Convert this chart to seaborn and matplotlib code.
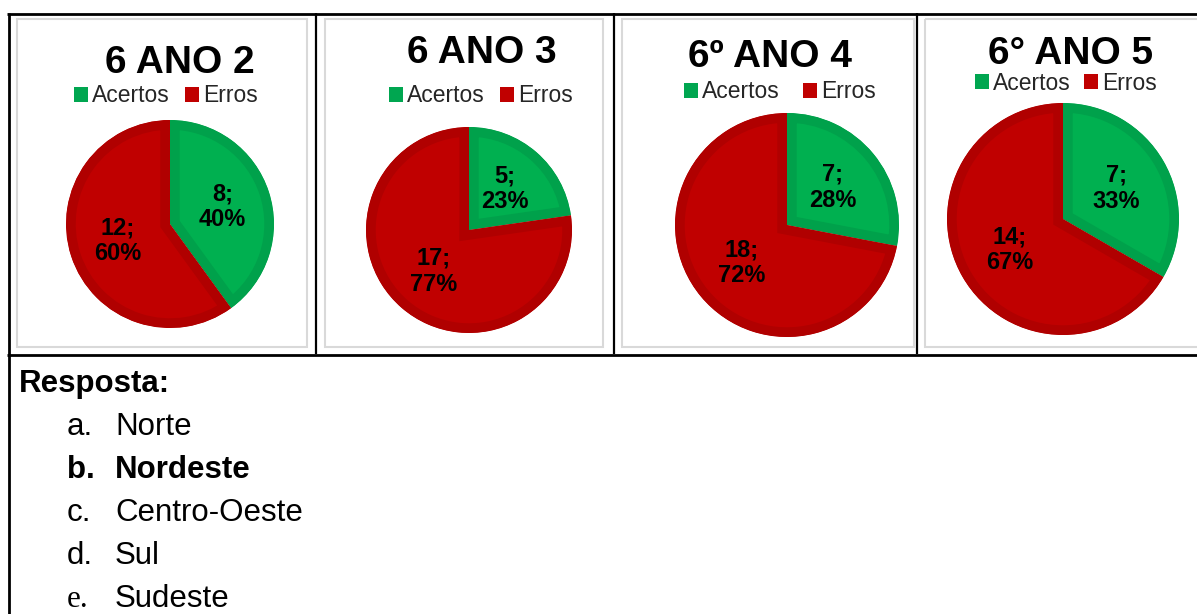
import matplotlib
matplotlib.use("Agg")
import matplotlib.pyplot as plt
from matplotlib.patches import Patch, Rectangle
import seaborn as sns

# dados
titulos = ["6 ANO 2", "6 ANO 3", "6º ANO 4", "6° ANO 5"]
categorias = ["Acertos", "Erros"]
acertos = [8, 5, 7, 7]
erros = [12, 17, 18, 14]

alternativas = ["a.", "b.", "c.", "d.", "e."]
respostas = ["Norte", "Nordeste", "Centro-Oeste", "Sul", "Sudeste"]
correta = 1

cores = ["#00B050", "#C00000"]
cores_borda = ["#00A14B", "#B00000"]
cores_legenda = ["#00A650", "#C00000"]

W, H = 1197, 614

# posicoes em pixels (centro x, centro y, raio) de cada pizza
pizzas = [(170, 224, 104), (469, 230, 103), (787, 225, 112), (1063, 219, 116)]
pos_titulo = [(180, 73), (482, 63), (770, 67), (1071, 64)]
pos_legenda = [(166, 96), (481, 96), (780, 92), (1066, 83)]
espaco_legenda = [0.65, 0.65, 1.0, 0.55]
molduras = [(17, 19, 307, 347), (325, 19, 603, 347), (622, 19, 914, 347), (925, 19, 1205, 347)]

sns.set_theme(style="white")
plt.rcParams["font.family"] = ["Liberation Sans", "DejaVu Sans"]

fig = plt.figure(figsize=(W / 100, H / 100), dpi=100)
fig.patch.set_facecolor("white")

# eixo de fundo em pixels para a tabela e o texto
bg = fig.add_axes([0, 0, 1, 1])
bg.set_xlim(0, W)
bg.set_ylim(H, 0)
bg.axis("off")

# linhas da tabela
lw = 2.0
bg.plot([7, W], [13.5, 13.5], color="black", lw=lw, solid_capstyle="butt")
bg.plot([8.5, 8.5], [12.5, H], color="black", lw=lw, solid_capstyle="butt")
bg.plot([7, W], [354.5, 354.5], color="black", lw=lw, solid_capstyle="butt")
for x in [316, 613.5, 916.5]:
    bg.plot([x, x], [13, 354], color="black", lw=1.6, solid_capstyle="butt")

for x0, y0, x1, y1 in molduras:
    bg.add_patch(Rectangle((x0, y0), x1 - x0, y1 - y0, fill=False,
                           edgecolor="#D9D9D9", lw=1.5))

for i in range(4):
    valores = [acertos[i], erros[i]]
    total = sum(valores)
    cx, cy, r = pizzas[i]
    ax = fig.add_axes([(cx - r) / W, 1 - (cy + r) / H, 2 * r / W, 2 * r / H])

    def rotulo(pct, total=total):
        n = int(round(pct * total / 100.0))
        return f"{n};\n{pct:.0f}%"

    wedges, textos, auto = ax.pie(
        valores, colors=cores, startangle=90, counterclock=False,
        radius=1, autopct=rotulo, pctdistance=0.53,
        textprops=dict(fontsize=17, fontweight="bold", color="black"),
        wedgeprops=dict(linewidth=14),
    )
    # borda interna mais escura: traco largo recortado pela propria fatia
    for w, cb in zip(wedges, cores_borda):
        w.set_edgecolor(cb)
        w.set_clip_on(True)
        w.set_clip_path(w)
    for t in auto:
        t.set_linespacing(1.15)
    ax.set_xlim(-1, 1)
    ax.set_ylim(-1, 1)
    ax.axis("off")

    tx, ty = pos_titulo[i]
    bg.text(tx, ty, titulos[i], fontsize=28, fontweight="bold",
            ha="center", va="baseline", color="black")

    lx, ly = pos_legenda[i]
    handles = [Patch(facecolor=c, edgecolor="none") for c in cores_legenda]
    fig.legend(handles, categorias, loc="center", ncol=2, frameon=False,
               bbox_to_anchor=(lx / W, 1 - ly / H), bbox_transform=fig.transFigure,
               fontsize=16.5, handlelength=0.6, handleheight=0.6,
               handletextpad=0.2, columnspacing=espaco_legenda[i], borderpad=0)

# texto abaixo da tabela
bg.text(19, 392, "Resposta:", fontsize=22.5, fontweight="bold",
        ha="left", va="baseline", color="black")
for k, (letra, nome) in enumerate(zip(alternativas, respostas)):
    y = 435 + k * 43
    peso = "bold" if k == correta else "normal"
    fam = ["Liberation Serif"] if letra == "e." else ["Liberation Sans", "DejaVu Sans"]
    bg.text(67, y, letra, fontsize=22.5, fontweight=peso, family=fam,
            ha="left", va="baseline", color="black")
    bg.text(115, y, nome, fontsize=22.5, fontweight=peso,
            ha="left", va="baseline", color="black")

fig.savefig("out.png", dpi=100, facecolor="white")
